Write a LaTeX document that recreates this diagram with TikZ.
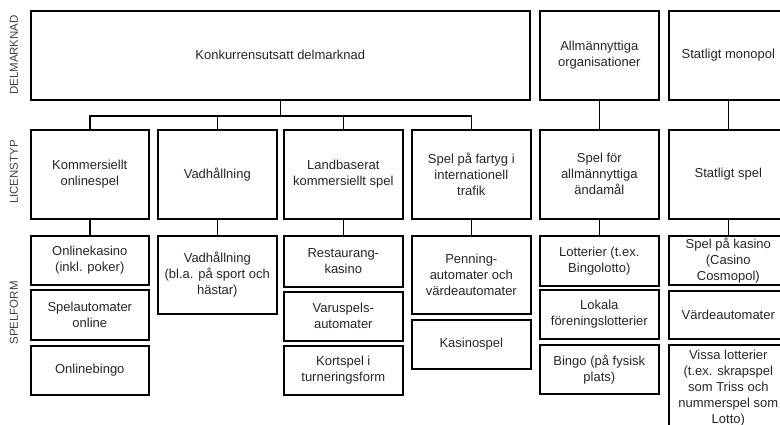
\documentclass[tikz,border=0pt]{standalone}
\usepackage{fontspec}
\setmainfont{Liberation Sans}
\usepackage{tikz}
\usetikzlibrary{positioning}

\begin{document}
\begin{tikzpicture}
[x=1pt,y=-1pt,
box/.style={rectangle,draw,line width=1.6pt,anchor=north west,align=center,inner xsep=2pt,inner ysep=0pt,
  minimum width=119pt,text=black!85,font=\fontsize{13}{16}\selectfont},
lbl/.style={rotate=90,text=black!75,font=\fontsize{11.5}{13}\selectfont},
link/.style={line width=1.6pt}]
\useasboundingbox (0,0) rectangle (780,425);
\clip (0,0) rectangle (780,425);

% delmarknad
\node[box,minimum width=499pt,minimum height=89pt] (top) at (30,10) {Konkurrensutsatt delmarknad};
\node[box,minimum height=89pt] (allm) at (539,10) {Allmännyttiga\\organisationer};
\node[box,minimum height=89pt] (mono) at (668,10) {Statligt monopol};

% licenstyp
\node[box,minimum width=118pt,minimum height=89pt] (kom) at (30,129) {Kommersiellt\\onlinespel};
\node[box,minimum height=89pt] (vad) at (157,129) {Vadhållning};
\node[box,minimum height=89pt] (land) at (283,129) {Landbaserat\\kommersiellt spel};
\node[box,minimum height=89pt] (fart) at (411,129) {Spel på fartyg i\\internationell\\trafik};
\node[box,minimum height=89pt] (allmspel) at (539,129) {Spel för\\allmännyttiga\\ändamål};
\node[box,minimum height=89pt] (statspel) at (668,129) {Statligt spel};

% spelform
\node[box,minimum width=118pt,minimum height=49pt] (onlkas) at (30,235) {Onlinekasino\\(inkl. poker)};
\node[box,minimum width=118pt,minimum height=50pt] (onlaut) at (30,289) {Spelautomater\\online};
\node[box,minimum width=118pt,minimum height=49pt] (onlbin) at (30,345) {Onlinebingo};

\node[box,minimum height=78pt] (vadform) at (157,235) {Vadhållning\\(bl.a. på sport och\\hästar)};

\node[box,minimum height=51pt] (restkas) at (283,235) {Restaurang-\\kasino};
\node[box,minimum height=49pt] (varaut) at (283,291) {Varuspels-\\automater};
\node[box,minimum height=49pt] (kortsp) at (283,345) {Kortspel i\\turneringsform};

\node[box,minimum height=78pt] (penning) at (411,235) {Penning-\\automater och\\värdeautomater};
\node[box,minimum height=49pt] (kassp) at (411,319) {Kasinospel};

\node[box,minimum height=50pt] (lott) at (539,235) {Lotterier (t.ex.\\Bingolotto)};
\node[box,minimum height=49pt] (lokala) at (539,289) {Lokala\\föreningslotterier};
\node[box,minimum height=49pt] (bingo) at (539,344) {Bingo (på fysisk\\plats)};

\node[box,minimum height=49pt] (statkas) at (668,235) {Spel på kasino\\(Casino\\Cosmopol)};
\node[box,minimum height=48pt] (vardaut) at (668,290) {Värdeautomater};
\node[box,minimum height=86pt] (vissa) at (668,344) {Vissa lotterier\\(t.ex. skrapspel\\som Triss och\\nummerspel som\\Lotto)};

% nivåer
\node[lbl] (lbldel) at (14,55) {DELMARKNAD};
\node[lbl] (lbllic) at (14,172) {LICENSTYP};
\node[lbl] (lblspel) at (14,313) {SPELFORM};

% förbindelser
\draw[link] (top.south) -- ++(0,15.5) coordinate (bus);
\foreach \n in {kom,vad,land,fart}
  \draw[link] (\n.north) |- (bus);
\draw[link] (allm.south) -- (allmspel.north);
\draw[link] (mono.south) -- (statspel.north);
\draw[link] (kom.south) -- (onlkas.north);
\draw[link] (vad.south) -- (vadform.north);
\draw[link] (land.south) -- (restkas.north);
\draw[link] (fart.south) -- (penning.north);
\draw[link] (allmspel.south) -- (lott.north);
\draw[link] (statspel.south) -- (statkas.north);
\end{tikzpicture}
\end{document}
